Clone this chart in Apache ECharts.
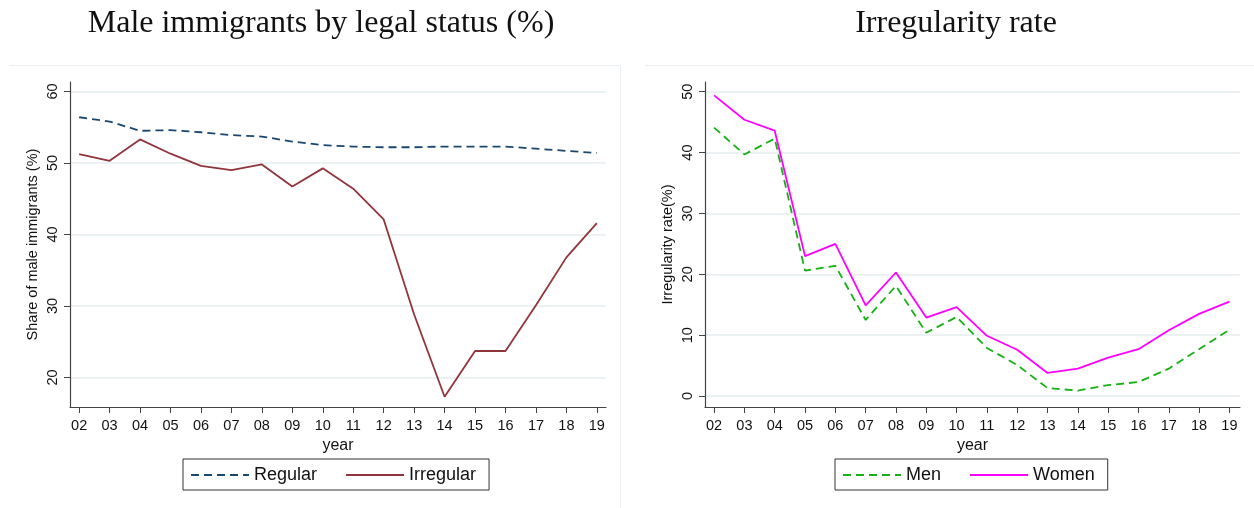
<!DOCTYPE html>
<html>
<head>
<meta charset="utf-8">
<script src="https://cdn.jsdelivr.net/npm/echarts@6/dist/echarts.min.js"></script>
<style>
  html, body { margin: 0; padding: 0; background: #fff; }
  #chart { width: 1254px; height: 508px; }
</style>
</head>
<body>
<div id="chart"></div>
<script>
// years 2002..2019, shown as two digits
const years = [2, 3, 4, 5, 6, 7, 8, 9, 10, 11, 12, 13, 14, 15, 16, 17, 18, 19];

// left panel: male immigrants by legal status (%)
const regular   = [56.4, 55.8, 54.5, 54.6, 54.3, 53.9, 53.7, 53.0, 52.5, 52.3, 52.2, 52.2, 52.3, 52.3, 52.3, 52.0, 51.7, 51.4];
const irregular = [51.25, 50.3, 53.3, 51.3, 49.6, 49.0, 49.8, 46.7, 49.25, 46.4, 42.1, 28.8, 17.3, 23.7, 23.7, 30.1, 36.8, 41.6];
const leftTicks = [20, 30, 40, 50, 60];

// right panel: irregularity rate
const men   = [44.1, 39.7, 42.3, 20.6, 21.4, 12.5, 18.1, 10.4, 13.0, 7.9, 5.1, 1.3, 0.9, 1.8, 2.3, 4.5, 7.7, 10.9];
const women = [49.4, 45.4, 43.6, 23.0, 25.0, 14.9, 20.3, 12.9, 14.6, 9.9, 7.6, 3.8, 4.5, 6.3, 7.7, 10.8, 13.5, 15.5];
const rightTicks = [0, 10, 20, 30, 40, 50];

const pairs = vals => vals.map((v, i) => [years[i], v]);
const pad2 = v => (v < 10 ? '0' : '') + v;

const gridColor = '#e6edf1';
const axisColor = '#444';
const sansFont = '"Liberation Sans", Arial, sans-serif';

function xAxisFor(gridIndex, max) {
    return {
        type: 'value',
        gridIndex: gridIndex,
        min: 1.7,
        max: max,
        name: 'year',
        nameLocation: 'middle',
        nameGap: 25,
        nameTextStyle: { fontSize: 16, color: '#111', fontFamily: sansFont },
        axisLine: { show: true, onZero: false, lineStyle: { color: axisColor, width: 1.2 } },
        axisTick: { show: true, length: 6, customValues: years, lineStyle: { color: axisColor } },
        axisLabel: { customValues: years, formatter: pad2, fontSize: 14.5, color: '#111', margin: 11, fontFamily: sansFont },
        splitLine: { show: false }
    };
}

function yAxisFor(gridIndex, min, max, ticks, name) {
    return {
        type: 'value',
        gridIndex: gridIndex,
        min: min,
        max: max,
        name: name,
        nameLocation: 'middle',
        nameRotate: 90,
        nameGap: 30,
        nameTextStyle: { fontSize: 14.5, color: '#111', fontFamily: sansFont },
        axisLine: { show: true, onZero: false, lineStyle: { color: axisColor, width: 1.2 } },
        axisTick: { show: true, length: 6, customValues: ticks, lineStyle: { color: axisColor } },
        axisLabel: { customValues: ticks, rotate: 90, fontSize: 14.5, color: '#111', margin: 10, fontFamily: sansFont },
        splitLine: { show: true, lineStyle: { color: gridColor, width: 1.5 } }
    };
}

function legendFor(left, names) {
    return {
        left: left,
        top: 459,
        orient: 'horizontal',
        data: names,
        itemWidth: 58,
        itemHeight: 14,
        itemGap: 28,
        padding: [7, 13, 6, 7],
        borderColor: '#333',
        borderWidth: 1,
        borderRadius: 0,
        itemStyle: { opacity: 0 },
        textStyle: { fontSize: 18, color: '#111', fontFamily: sansFont }
    };
}

const chart = echarts.init(document.getElementById('chart'));

chart.setOption({
    backgroundColor: '#fff',
    animation: false,
    title: [
        {
            text: 'Male immigrants by legal status (%)',
            left: 316, top: 3, textAlign: 'center',
            textStyle: { fontSize: 32, fontWeight: 'normal', color: '#111', fontFamily: '"Liberation Serif", "DejaVu Serif", serif' }
        },
        {
            text: 'Irregularity rate',
            left: 951, top: 3, textAlign: 'center',
            textStyle: { fontSize: 32, fontWeight: 'normal', color: '#111', fontFamily: '"Liberation Serif", "DejaVu Serif", serif' }
        }
    ],
    legend: [
        legendFor(183, ['Regular', 'Irregular']),
        legendFor(835, ['Men', 'Women'])
    ],
    grid: [
        { left: 70, top: 82, width: 536, height: 325 },
        { left: 705, top: 82, width: 535, height: 325 }
    ],
    xAxis: [xAxisFor(0, 19.3), xAxisFor(1, 19.35)],
    yAxis: [
        yAxisFor(0, 15.87, 61.33, leftTicks, 'Share of male immigrants (%)'),
        yAxisFor(1, -1.8, 51.6, rightTicks, 'Irregularity rate(%)')
    ],
    graphic: [
        { type: 'line', shape: { x1: 9, y1: 65.5, x2: 620.5, y2: 65.5 }, style: { stroke: '#e8eef1', lineWidth: 1 }, silent: true },
        { type: 'line', shape: { x1: 620.5, y1: 65.5, x2: 620.5, y2: 508 }, style: { stroke: '#e8eef1', lineWidth: 1 }, silent: true },
        { type: 'line', shape: { x1: 645, y1: 65.5, x2: 1254, y2: 65.5 }, style: { stroke: '#e8eef1', lineWidth: 1 }, silent: true }
    ],
    series: [
        {
            name: 'Regular', type: 'line', xAxisIndex: 0, yAxisIndex: 0,
            data: pairs(regular), symbol: 'none',
            itemStyle: { color: '#1a476f' },
            lineStyle: { color: '#1a476f', width: 1.8, type: [8, 5] }
        },
        {
            name: 'Irregular', type: 'line', xAxisIndex: 0, yAxisIndex: 0,
            data: pairs(irregular), symbol: 'none',
            itemStyle: { color: '#90353b' },
            lineStyle: { color: '#90353b', width: 1.8 }
        },
        {
            name: 'Men', type: 'line', xAxisIndex: 1, yAxisIndex: 1,
            data: pairs(men), symbol: 'none',
            itemStyle: { color: '#14b014' },
            lineStyle: { color: '#14b014', width: 1.8, type: [8, 5] }
        },
        {
            name: 'Women', type: 'line', xAxisIndex: 1, yAxisIndex: 1,
            data: pairs(women), symbol: 'none',
            itemStyle: { color: '#ff00ff' },
            lineStyle: { color: '#ff00ff', width: 1.8 }
        }
    ]
});
</script>
</body>
</html>
